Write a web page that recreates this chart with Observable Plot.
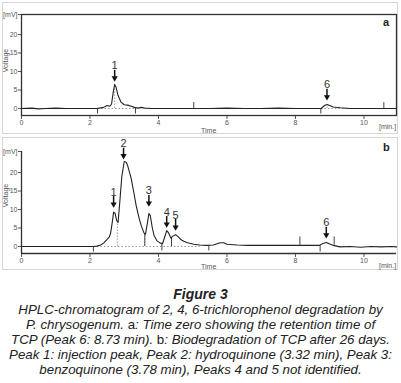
<!DOCTYPE html>
<html><head><meta charset="utf-8">
<script src="https://cdn.jsdelivr.net/npm/d3@7"></script>
<script src="https://cdn.jsdelivr.net/npm/@observablehq/plot@0.6"></script>
<style>
body{margin:0;background:#fff;font-family:"Liberation Sans",Arial,sans-serif;}
#wrap{position:relative;width:401px;height:383px;overflow:hidden;}
.panel{position:absolute;left:2px;width:394px;border:1px solid #d6d6d6;background:#fff;}
.abs{position:absolute;white-space:nowrap;}
.plot{position:absolute;left:0;}
.sm{font-size:7px;color:#555;}
.cap{position:absolute;left:0;width:401px;text-align:center;font-style:italic;color:#222;}
</style></head><body>
<div id="wrap">
  <div class="panel" style="top:2px;height:130px"></div>
  <div class="panel" style="top:137px;height:131px"></div>
  <div id="pa" class="plot" style="top:0"></div>
  <div id="pb" class="plot" style="top:137px"></div>
  <div class="abs sm" style="left:-6px;top:57px;transform:rotate(-90deg);transform-origin:center;">Voltage</div>
  <div class="abs sm" style="left:-6px;top:192px;transform:rotate(-90deg);transform-origin:center;">Voltage</div>
  <div class="abs sm" style="left:201px;top:127px;">Time</div>
  <div class="abs sm" style="left:201px;top:263px;">Time</div>
  <div class="abs sm" style="left:379px;top:123px;">[min.]</div>
  <div class="abs sm" style="left:379px;top:262px;">[min.]</div>
  <div class="abs" style="left:383px;top:16px;font-weight:bold;font-size:11px;color:#222;">a</div>
  <div class="abs" style="left:383px;top:141px;font-weight:bold;font-size:11px;color:#222;">b</div>
  <div class="cap" style="top:288px;font-weight:bold;font-size:14px;line-height:13px;">Figure 3</div>
  <div class="cap" style="top:301.5px;font-size:13.3px;line-height:15px;">HPLC-chromatogram of 2, 4, 6-trichlorophenol degradation by<br>P. chrysogenum. <span style="font-style:normal">a</span>: Time zero showing the retention time of<br>TCP (Peak 6: 8.73 min). <span style="font-style:normal">b</span>: Biodegradation of TCP after 26 days.<br>Peak 1: injection peak, Peak 2: hydroquinone (3.32 min), Peak 3:<br>benzoquinone (3.78 min), Peaks 4 and 5 not identified.</div>
</div>
<script>
// ---- data ----
const xTicks = [0, 2, 4, 6, 8, 10];
const yTicks = [0, 5, 10, 15, 20];

const aTime = [0,0.3,0.5,0.7,1.0,1.3,1.6,2.0,2.2,2.4,2.5,2.58,2.63,2.68,2.72,2.76,2.82,2.9,3.0,3.1,3.2,3.3,3.4,3.5,3.6,3.8,4.2,4.6,5.0,5.5,6.0,6.5,7.0,7.5,8.0,8.5,8.75,8.85,8.92,9.0,9.1,9.3,9.6,10.0,10.5,10.95];
const aVolt = [0,0.1,-0.1,0,0.1,0,0,0,0,0.3,0.8,0.6,1.2,4.5,6.5,5.8,3.5,1.8,1.0,0.9,0.6,0.3,0.1,0.3,0.1,0,0,0,0,0,0.1,0,0,0.1,0,0,0,0.8,1.1,0.8,0.4,0.2,0,0,0,0];

const bTime = [0,0.5,1.0,1.5,2.0,2.1,2.2,2.31,2.4,2.5,2.56,2.6,2.65,2.69,2.73,2.78,2.82,2.87,2.93,3.0,3.06,3.1,3.2,3.28,3.35,3.43,3.5,3.58,3.62,3.67,3.72,3.76,3.82,3.87,3.95,4.05,4.12,4.18,4.24,4.3,4.36,4.42,4.5,4.58,4.66,4.74,4.85,5.03,5.2,5.4,5.6,5.8,5.9,6.0,6.3,6.6,7.0,7.5,8.0,8.7,8.8,8.9,9.0,9.1,9.3,9.6,9.9,10.2,10.5,10.8,10.95];
const bVolt = [0,0,0,0,0,0,0.1,0.4,0.9,1.9,2.5,3.5,6.5,9.3,9.0,7.0,6.5,12,19,23,22.8,21.9,18.5,14.6,11,7.8,5.5,3.6,3.3,6,8.9,8.4,5,3.0,1.6,0.9,0.8,2.5,4.3,3.6,2.3,2.8,3.2,2.6,1.8,1.4,1.0,0.6,0.4,0.3,0.4,1.0,1.0,0.6,0.4,0.3,0.3,0.3,0.3,0.3,0.8,1.1,0.7,0.3,-0.1,0,-0.2,0,-0.1,0,-0.1];

// peaks: label, retention time, arrow tip level
const aPeakLabel = ["1", "6"];
const aPeakTime = [2.72, 8.92];
const aPeakTip = [7.3, 2.2];
const bPeakLabel = ["1", "2", "3", "4", "5", "6"];
const bPeakTime = [2.69, 2.98, 3.72, 4.24, 4.5, 8.9];
const bPeakTip = [10.5, 23.6, 10.8, 5.1, 4.3, 2.2];

// integration markers (time, low, high)
const aMarkTime = [2.22, 3.33, 5.03, 8.74, 10.58];
const aMarkLo = [-1.5, -1.5, 0, -1.5, 0];
const aMarkHi = [0, 0, 1.6, 0, 1.6];
const bMarkTime = [2.1, 3.6, 4.1, 4.38, 5.47, 8.13, 8.72, 9.13];
const bMarkLo = [-1.5, 0, -1.2, 0, -1.2, 0.3, -1.5, 0.3];
const bMarkHi = [0, 3.3, 0.8, 2.3, 0.3, 2.6, 0.3, 2.6];

// dotted baselines and drop lines
const aBaseStart = [2.22, 8.74], aBaseEnd = [3.33, 9.5];
const aDropTime = [2.72, 8.92], aDropTop = [6.5, 1.1];
const bBaseStart = [2.1], bBaseEnd = [5.2];
const bDropTime = [2.8, 3.6, 4.1, 4.38], bDropTop = [6.5, 3.3, 0.8, 2.3];

const arrowLen = 3;

// ---- build ----
const zip = (t, v) => t.map((x, i) => ({t: x, v: v[i]}));
const peaks = (lab, t, tip) => lab.map((l, i) => ({l, t: t[i], tip: tip[i]}));
const marks3 = (t, lo, hi) => t.map((x, i) => ({t: x, lo: lo[i], hi: hi[i]}));
const segs = (s, e) => s.map((x, i) => ({s: x, e: e[i]}));

function chart({trace, pk, mk, base, drop, ymin, ymax, height, mt, mb, box}) {
  const yTickVals = [...yTicks, ymax];
  return Plot.plot({
    width: 401, height, marginTop: mt, marginBottom: mb, marginLeft: 21, marginRight: 5,
    x: {domain: [0, 10.95], ticks: xTicks, tickSize: 4, tickPadding: 1, label: null},
    y: {domain: [ymin, ymax], ticks: yTickVals, tickSize: 3, tickPadding: 1, label: null,
        tickFormat: d => d === ymax ? "[mV]" : String(d)},
    style: {fontFamily: "Liberation Sans, Arial, sans-serif", fontSize: "7px", color: "#555", background: "transparent", overflow: "visible"},
    marks: [
      Plot.link(base, {x1: "s", x2: "e", y1: 0, y2: 0, stroke: "#888", strokeDasharray: "1.5,2", strokeWidth: 0.9}),
      Plot.ruleX(drop, {x: "t", y1: 0, y2: "top", stroke: "#999", strokeDasharray: "1.5,1.5", strokeWidth: 0.9}),
      Plot.ruleX(mk, {x: "t", y1: "lo", y2: "hi", stroke: "#444", strokeWidth: 1}),
      Plot.line(trace, {x: "t", y: "v", stroke: "#222", strokeWidth: 1.1}),
      box ? Plot.frame({stroke: "#333", strokeWidth: 1.3})
          : [Plot.ruleX([0], {stroke: "#333", strokeWidth: 1.3}), Plot.ruleY([ymin], {stroke: "#333", strokeWidth: 1.3})],
      Plot.ruleX(pk, {x: "t", y1: d => d.tip + 0.8, y2: d => d.tip + arrowLen, stroke: "#111", strokeWidth: 1.5}),
      Plot.dot(pk, {x: "t", y: "tip", symbol: "triangle", rotate: 180, r: 2.3, fill: "#111", stroke: "none", dy: -3.4}),
      Plot.text(pk, {x: "t", y: d => d.tip + arrowLen, text: "l", lineAnchor: "bottom", dy: -1, fontSize: 11, fill: "#333"})
    ]
  });
}

document.getElementById("pa").append(chart({
  trace: zip(aTime, aVolt), pk: peaks(aPeakLabel, aPeakTime, aPeakTip),
  mk: marks3(aMarkTime, aMarkLo, aMarkHi), base: segs(aBaseStart, aBaseEnd),
  drop: aDropTime.map((t, i) => ({t, top: aDropTop[i]})),
  ymin: -1.9, ymax: 25.4, height: 135, mt: 14, mb: 20, box: true
}));
document.getElementById("pb").append(chart({
  trace: zip(bTime, bVolt), pk: peaks(bPeakLabel, bPeakTime, bPeakTip),
  mk: marks3(bMarkTime, bMarkLo, bMarkHi), base: segs(bBaseStart, bBaseEnd),
  drop: bDropTime.map((t, i) => ({t, top: bDropTop[i]})),
  ymin: -1.9, ymax: 25.7, height: 133, mt: 14, mb: 17, box: false
}));
</script>
</body></html>
